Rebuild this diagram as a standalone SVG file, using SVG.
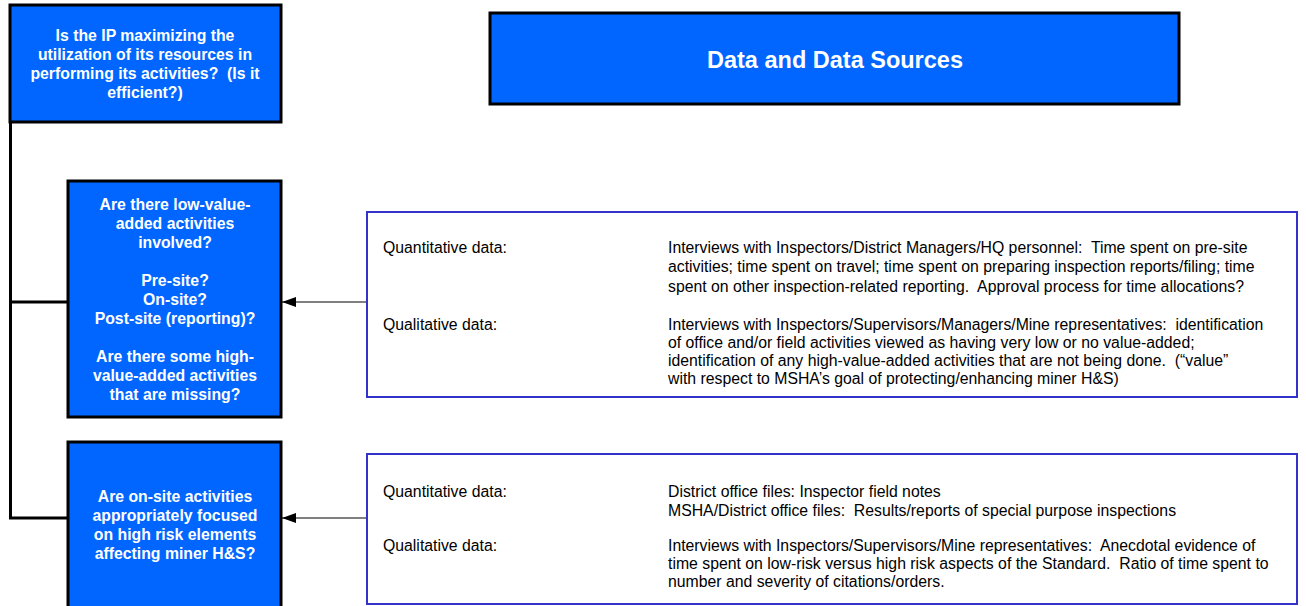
<svg xmlns="http://www.w3.org/2000/svg" width="1306" height="606" viewBox="0 0 1306 606">
<style>
.q{fill:#0066FF;stroke:#000;stroke-width:3}
.d{fill:#fff;stroke:#3333CC;stroke-width:2}
.qt{font-family:"Liberation Sans",Arial,sans-serif;font-weight:bold;font-size:15.8px;fill:#fff;text-anchor:middle;white-space:pre}
.t{font-family:"Liberation Sans",Arial,sans-serif;font-size:15.8px;fill:#000;white-space:pre}
.c{stroke:#000;fill:none}
</style>
<defs>
<marker id="ah" markerWidth="14" markerHeight="10" refX="14" refY="5" orient="auto" markerUnits="userSpaceOnUse">
<path d="M0,0 L14,5 L0,10 Z" fill="#000"/>
</marker>
</defs>
<g id="connectors">
<path class="c" stroke-width="3" d="M10.5,122 V518 H68"/>
<path class="c" stroke-width="3" d="M10.5,302 H68"/>
<path class="c" stroke-width="1" d="M367,302 H282" marker-end="url(#ah)"/>
<path class="c" stroke-width="1" d="M367,518 H282" marker-end="url(#ah)"/>
</g>
<g id="q-main">
<rect class="q" x="10" y="5" width="271" height="117"/>
<text class="qt" xml:space="preserve"><tspan x="145" y="41">Is the IP maximizing the</tspan><tspan x="145" y="60">utilization of its resources in</tspan><tspan x="145" y="79">performing its activities?  (Is it</tspan><tspan x="145" y="98">efficient?)</tspan></text>
</g>
<g id="header">
<rect class="q" x="490" y="13" width="689" height="91"/>
<text x="835" y="68" font-family="Liberation Sans,Arial,sans-serif" font-weight="bold" font-size="23.5" fill="#fff" text-anchor="middle">Data and Data Sources</text>
</g>
<g id="q-low-value">
<rect class="q" x="68" y="181" width="213" height="236"/>
<text class="qt"><tspan x="175" y="210">Are there low-value-</tspan><tspan x="175" y="229">added activities</tspan><tspan x="175" y="248">involved?</tspan><tspan x="175" y="286">Pre-site?</tspan><tspan x="175" y="305">On-site?</tspan><tspan x="175" y="324">Post-site (reporting)?</tspan><tspan x="175" y="362">Are there some high-</tspan><tspan x="175" y="381">value-added activities</tspan><tspan x="175" y="400">that are missing?</tspan></text>
</g>
<g id="q-on-site">
<rect class="q" x="68" y="442" width="213" height="170"/>
<text class="qt"><tspan x="175" y="502">Are on-site activities</tspan><tspan x="175" y="521">appropriately focused</tspan><tspan x="175" y="540">on high risk elements</tspan><tspan x="175" y="559">affecting miner H&amp;S?</tspan></text>
</g>
<g id="data-1">
<rect class="d" x="367" y="212" width="930" height="185"/>
<text class="t" x="383" y="253">Quantitative data:</text>
<text class="t" xml:space="preserve"><tspan x="668" y="253">Interviews with Inspectors/District Managers/HQ personnel:  Time spent on pre-site</tspan><tspan x="668" y="272">activities; time spent on travel; time spent on preparing inspection reports/filing; time</tspan><tspan x="668" y="292">spent on other inspection-related reporting.  Approval process for time allocations?</tspan></text>
<text class="t" x="383" y="330">Qualitative data:</text>
<text class="t" xml:space="preserve"><tspan x="668" y="330">Interviews with Inspectors/Supervisors/Managers/Mine representatives:  identification</tspan><tspan x="668" y="348">of office and/or field activities viewed as having very low or no value-added;</tspan><tspan x="668" y="366">identification of any high-value-added activities that are not being done.  (“value”</tspan><tspan x="668" y="384">with respect to MSHA’s goal of protecting/enhancing miner H&amp;S)</tspan></text>
</g>
<g id="data-2">
<rect class="d" x="367" y="454" width="930" height="150"/>
<text class="t" x="383" y="497">Quantitative data:</text>
<text class="t" xml:space="preserve"><tspan x="668" y="497">District office files: Inspector field notes</tspan><tspan x="668" y="516">MSHA/District office files:  Results/reports of special purpose inspections</tspan></text>
<text class="t" x="383" y="551">Qualitative data:</text>
<text class="t" xml:space="preserve"><tspan x="668" y="551">Interviews with Inspectors/Supervisors/Mine representatives:  Anecdotal evidence of</tspan><tspan x="668" y="569">time spent on low-risk versus high risk aspects of the Standard.  Ratio of time spent to</tspan><tspan x="668" y="587">number and severity of citations/orders.</tspan></text>
</g>
</svg>
